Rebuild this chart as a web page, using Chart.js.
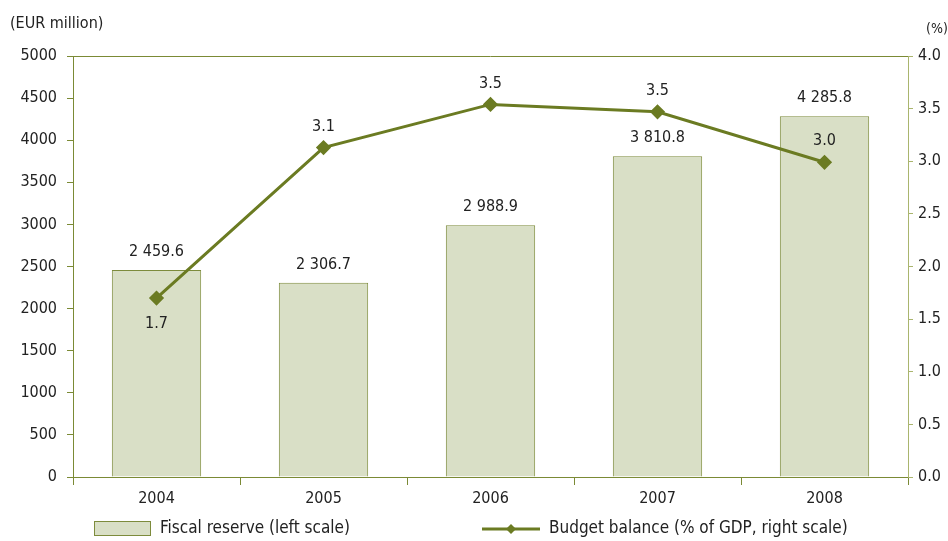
<!DOCTYPE html>
<html>
<head>
<meta charset="utf-8">
<script src="https://cdn.jsdelivr.net/npm/chart.js@4.4.1/dist/chart.umd.min.js"></script>
<style>
  html, body { margin: 0; padding: 0; background: #fff; }
  #wrap { width: 948px; height: 541px; position: relative; }
</style>
</head>
<body>
<div id="wrap"><canvas id="myChart" width="948" height="541"></canvas></div>
<script>
const years = ['2004', '2005', '2006', '2007', '2008'];
const reserve = [2459.6, 2306.7, 2988.9, 3810.8, 4285.8];
const balance = [1.7, 3.13, 3.54, 3.47, 2.99];
const leftTicks = [0, 500, 1000, 1500, 2000, 2500, 3000, 3500, 4000, 4500, 5000];
const rightTicks = [0, 0.5, 1, 1.5, 2, 2.5, 3, 3.5, 4];

const FONT = '"Liberation Sans Narrow", "DejaVu Sans Condensed", "Roboto Condensed", Arial, sans-serif';
const axisColor = '#7b8a35';
const rightAxisColor = '#aab56e';
const barFill = '#d9dfc6';
const barLine = '#7d8b3c';
const lineColor = '#6b7b22';
const textColor = '#222';

Chart.defaults.font.family = FONT;
Chart.defaults.font.size = 16;
Chart.defaults.color = textColor;

function fmtThousands(v) {
    const parts = v.toFixed(1).split('.');
    return parts[0].replace(/\B(?=(\d{3})+(?!\d))/g, ' ') + '.' + parts[1];
}

// value labels, top border, unit captions and the legend
const extras = {
    id: 'extras',
    afterDatasetsDraw(chart) {
        const ctx = chart.ctx;
        const area = chart.chartArea;
        ctx.save();

        ctx.strokeStyle = axisColor;
        ctx.lineWidth = 1;
        ctx.beginPath();
        ctx.moveTo(area.left, area.top + 0.5);
        ctx.lineTo(area.right, area.top + 0.5);
        ctx.stroke();

        ctx.font = '16px ' + FONT;
        ctx.fillStyle = textColor;
        ctx.textAlign = 'center';

        // dataset 1 = bars, dataset 0 = line
        ctx.textBaseline = 'bottom';
        chart.getDatasetMeta(1).data.forEach((bar, i) => {
            ctx.fillText(fmtThousands(reserve[i]), bar.x, bar.y - 10);
        });
        chart.getDatasetMeta(0).data.forEach((pt, i) => {
            if (i === 0) {
                ctx.textBaseline = 'top';
                ctx.fillText(balance[i].toFixed(1), pt.x, pt.y + 18);
            } else {
                ctx.textBaseline = 'bottom';
                ctx.fillText(balance[i].toFixed(1), pt.x, pt.y - 13);
            }
        });

        ctx.textBaseline = 'alphabetic';
        ctx.textAlign = 'left';
        ctx.fillText('(EUR million)', 10, 28);
        ctx.font = '14px ' + FONT;
        ctx.fillText('(%)', 926, 33);

        // legend
        ctx.font = '17px ' + FONT;
        ctx.fillStyle = barFill;
        ctx.strokeStyle = barLine;
        ctx.lineWidth = 1;
        ctx.fillRect(94.5, 521.5, 56, 14);
        ctx.strokeRect(94.5, 521.5, 56, 14);
        ctx.fillStyle = textColor;
        ctx.textBaseline = 'middle';
        ctx.fillText('Fiscal reserve (left scale)', 160, 529);

        ctx.strokeStyle = lineColor;
        ctx.lineWidth = 3;
        ctx.beginPath();
        ctx.moveTo(482, 529);
        ctx.lineTo(540, 529);
        ctx.stroke();
        ctx.fillStyle = lineColor;
        ctx.beginPath();
        ctx.moveTo(511, 524);
        ctx.lineTo(516, 529);
        ctx.lineTo(511, 534);
        ctx.lineTo(506, 529);
        ctx.closePath();
        ctx.fill();
        ctx.fillStyle = textColor;
        ctx.fillText('Budget balance (% of GDP, right scale)', 549, 529);

        ctx.restore();
    }
};

var ctx = document.getElementById('myChart').getContext('2d');

var myChart = new Chart(ctx, {
    data: {
        labels: years,
        datasets: [
            {
                type: 'line',
                label: 'Budget balance (% of GDP, right scale)',
                data: balance,
                yAxisID: 'yRight',
                borderColor: lineColor,
                backgroundColor: lineColor,
                borderWidth: 3,
                pointStyle: 'rectRot',
                pointRadius: 5.5,
                pointHoverRadius: 5.5,
                tension: 0,
                order: 0
            },
            {
                type: 'bar',
                label: 'Fiscal reserve (left scale)',
                data: reserve,
                yAxisID: 'yLeft',
                backgroundColor: barFill,
                borderColor: barLine,
                borderWidth: 1,
                categoryPercentage: 1,
                barPercentage: 0.535,
                order: 1
            }
        ]
    },
    options: {
        responsive: false,
        animation: false,
        layout: { padding: { top: 56, left: 0, right: 0, bottom: 29 } },
        plugins: {
            legend: { display: false },
            tooltip: { enabled: false }
        },
        scales: {
            x: {
                offset: true,
                grid: {
                    offset: true,
                    drawOnChartArea: false,
                    drawTicks: true,
                    tickLength: 8,
                    color: axisColor
                },
                border: { color: axisColor, width: 1 },
                ticks: { color: textColor, padding: 4, font: { size: 16 } },
                afterFit(scale) { scale.height = 35; }
            },
            yLeft: {
                position: 'left',
                min: 0,
                max: 5000,
                afterBuildTicks(scale) { scale.ticks = leftTicks.map(v => ({ value: v })); },
                grid: { drawOnChartArea: false, tickLength: 6, color: axisColor },
                border: { color: axisColor, width: 1 },
                ticks: { color: textColor, padding: 10, font: { size: 16 }, callback: v => String(v) },
                afterFit(scale) { scale.width = 73; }
            },
            yRight: {
                position: 'right',
                min: 0,
                max: 4,
                afterBuildTicks(scale) { scale.ticks = rightTicks.map(v => ({ value: v })); },
                grid: { drawOnChartArea: false, tickLength: 5, color: rightAxisColor },
                border: { color: rightAxisColor, width: 1 },
                ticks: {
                    color: textColor,
                    padding: 5,
                    font: { size: 16 },
                    callback: v => Number(v).toFixed(1)
                },
                afterFit(scale) { scale.width = 40; }
            }
        }
    },
    plugins: [extras]
});
</script>
</body>
</html>
